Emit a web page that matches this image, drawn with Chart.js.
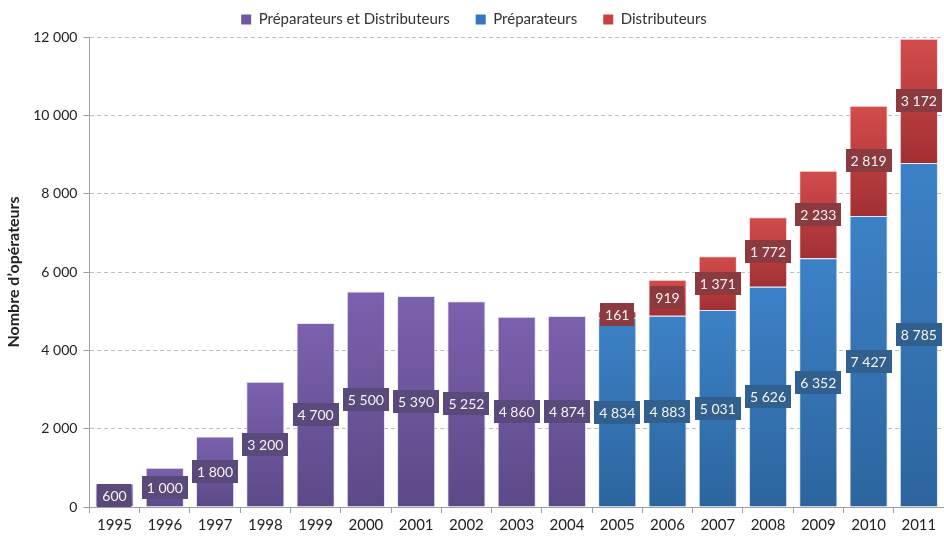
<!DOCTYPE html>
<html>
<head>
<meta charset="utf-8">
<script src="https://cdn.jsdelivr.net/npm/chart.js@4.4.0/dist/chart.umd.min.js"></script>
<style>
  html, body { margin: 0; padding: 0; background: #fff; }
  #wrap { width: 944px; height: 537px; position: relative; }
</style>
</head>
<body>
<div id="wrap"><canvas id="chart"></canvas></div>
<script>
// data
const years = ['1995', '1996', '1997', '1998', '1999', '2000', '2001', '2002', '2003', '2004',
  '2005', '2006', '2007', '2008', '2009', '2010', '2011'];
const prepEtDistrib = [600, 1000, 1800, 3200, 4700, 5500, 5390, 5252, 4860, 4874,
  null, null, null, null, null, null, null];
const preparateurs = [null, null, null, null, null, null, null, null, null, null,
  4834, 4883, 5031, 5626, 6352, 7427, 8785];
const distributeurs = [null, null, null, null, null, null, null, null, null, null,
  161, 919, 1371, 1772, 2233, 2819, 3172];
const yTicks = [0, 2000, 4000, 6000, 8000, 10000, 12000];

const FONT = 'Lato, "Open Sans", sans-serif';

// thousands with a space, like "12 000"
const fmt = (v) => String(v).replace(/\B(?=(\d{3})+(?!\d))/g, ' ');

// gradient per bar segment: light at top, darker at bottom
function gradFill(top, bottom) {
  return (context) => {
    if (context.type !== 'data') return top;
    const chart = context.chart;
    const v = context.raw;
    if (v == null || !chart.chartArea) return top;
    const y = chart.scales.y;
    let base = 0;
    for (let d = 0; d < context.datasetIndex; d++) {
      const other = chart.data.datasets[d].data[context.dataIndex];
      if (other != null) base += other;
    }
    const yTop = y.getPixelForValue(base + v);
    const yBot = y.getPixelForValue(base);
    if (!isFinite(yTop) || !isFinite(yBot) || yTop === yBot) return top;
    const g = chart.ctx.createLinearGradient(0, yTop, 0, yBot);
    g.addColorStop(0, top);
    g.addColorStop(1, bottom);
    return g;
  };
}

const labelBoxes = ['#5a4a7b', '#31608f', '#8b3a3f'];

const valueLabels = {
  id: 'valueLabels',
  afterDatasetsDraw(chart) {
    const ctx = chart.ctx;
    ctx.save();
    ctx.font = '14px ' + FONT;
    ctx.textAlign = 'center';
    ctx.textBaseline = 'middle';
    chart.data.datasets.forEach((ds, i) => {
      const meta = chart.getDatasetMeta(i);
      meta.data.forEach((bar, j) => {
        const v = ds.data[j];
        if (v == null) return;
        const p = bar.getProps(['x', 'y', 'base'], true);
        const cy = (p.y + p.base) / 2;
        const txt = fmt(v);
        const w = ctx.measureText(txt).width + 10;
        const h = 23;
        ctx.fillStyle = labelBoxes[i];
        ctx.fillRect(Math.round(p.x - w / 2), Math.round(cy - h / 2), Math.round(w), h);
        ctx.fillStyle = '#f4f4f4';
        ctx.fillText(txt, p.x, cy + 1);
      });
    });
    ctx.restore();
  }
};

new Chart(document.getElementById('chart'), {
  type: 'bar',
  data: {
    labels: years,
    datasets: [
      {
        label: 'Préparateurs et Distributeurs',
        data: prepEtDistrib,
        backgroundColor: gradFill('#7c61ae', '#5c4988'),
        borderColor: 'rgba(220,210,240,0.6)',
        borderWidth: 1,
        borderSkipped: 'bottom'
      },
      {
        label: 'Préparateurs',
        data: preparateurs,
        backgroundColor: gradFill('#3c81c7', '#2c659e'),
        borderColor: 'rgba(200,220,240,0.6)',
        borderWidth: 1,
        borderSkipped: 'bottom'
      },
      {
        label: 'Distributeurs',
        data: distributeurs,
        backgroundColor: gradFill('#d34c4b', '#a13033'),
        borderColor: 'rgba(245,205,205,0.6)',
        borderWidth: 1,
        borderSkipped: 'bottom'
      }
    ]
  },
  options: {
    responsive: true,
    maintainAspectRatio: false,
    animation: false,
    layout: { padding: { top: 1, right: 0, left: 4, bottom: 0 } },
    datasets: {
      bar: { categoryPercentage: 1, barPercentage: 0.76, skipNull: false }
    },
    plugins: {
      tooltip: { enabled: false },
      legend: {
        position: 'top',
        align: 'center',
        labels: {
          boxWidth: 10,
          boxHeight: 10,
          padding: 11,
          color: '#333',
          font: { family: FONT, size: 15 },
          generateLabels: (chart) => {
            const sw = ['#7157a3', '#3477c0', '#c94040'];
            // en spaces widen the gap between items, like the original
            return chart.data.datasets.map((ds, i) => ({
              text: ds.label + (i < 2 ? '\u2002\u2002' : ''),
              fillStyle: sw[i],
              strokeStyle: sw[i],
              lineWidth: 0,
              fontColor: '#333',
              datasetIndex: i
            }));
          }
        }
      }
    },
    scales: {
      x: {
        stacked: true,
        grid: {
          offset: true,
          drawOnChartArea: false,
          drawTicks: true,
          tickLength: 6,
          color: '#a0a0a0'
        },
        border: { color: '#a0a0a0', width: 1 },
        ticks: {
          color: '#222',
          padding: 3,
          font: { family: FONT, size: 15 }
        }
      },
      y: {
        stacked: true,
        min: 0,
        max: 12000,
        afterBuildTicks: (axis) => { axis.ticks = yTicks.map(v => ({ value: v })); },
        grid: {
          color: '#c0c0c0',
          tickLength: 6,
          tickColor: '#a0a0a0'
        },
        border: { color: '#a0a0a0', width: 1, dash: [4, 3] },
        title: {
          display: true,
          text: 'Nombre d’opérateurs',
          color: '#222',
          padding: { top: 0, bottom: 4 },
          font: { family: FONT, size: 16, weight: 'bold' }
        },
        ticks: {
          color: '#222',
          padding: 6,
          font: { family: FONT, size: 14 },
          callback: (v) => fmt(v)
        }
      }
    }
  },
  plugins: [valueLabels]
});
</script>
</body>
</html>
